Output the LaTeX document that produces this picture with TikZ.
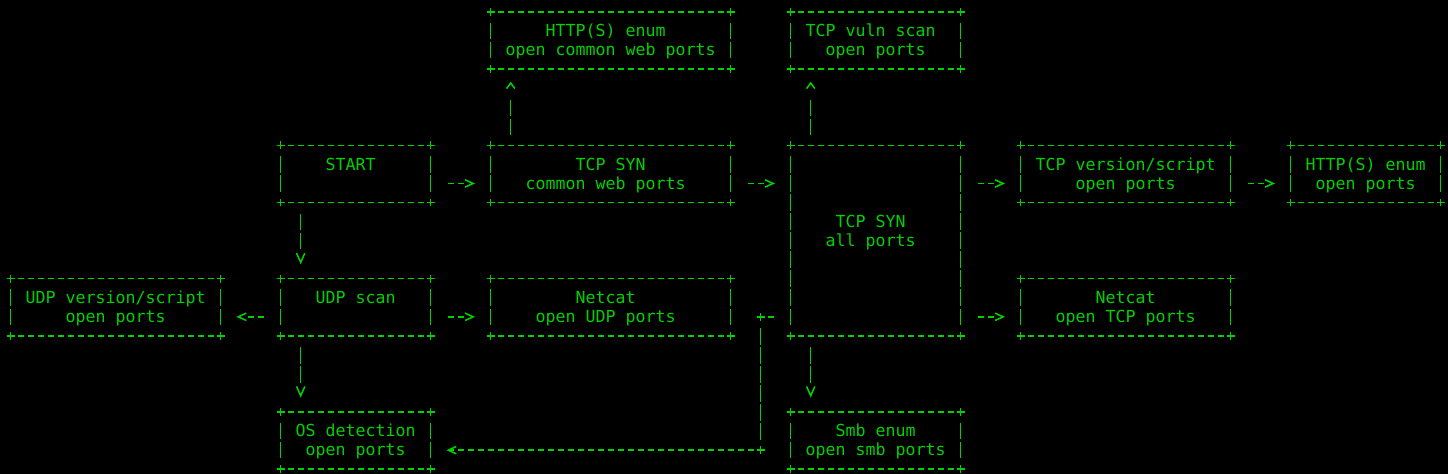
\documentclass[tikz,border=0pt]{standalone}
\usepackage{fontspec}
\usepackage{tikz}
\usetikzlibrary{arrows.meta,calc}
\newfontfamily\termfont{DejaVu Sans Mono}
\definecolor{termgreen}{RGB}{0,210,0}

\begin{document}
\begin{tikzpicture}[x=7.5pt,y=-14.2875pt,color=termgreen,line width=1.15pt,
		box/.style={inner sep=0pt,outer sep=0pt,draw=none},
		lbl/.style={font=\termfont\fontsize{12.46pt}{14.2875pt}\selectfont,inner sep=0pt,text height=10.7pt,text depth=2.3pt},
		hdash/.style={dash pattern=on 4.5pt off 3pt},
		vdash/.style={dash pattern=on 12.45pt off 1.8375pt},
		harrow/.style={dash pattern=on 4.5pt off 3pt on 4.5pt off 50pt,shorten <=12.75pt,shorten >=11.8pt,-{Straight Barb[length=6pt,width=5.5pt]}},
		darrow/.style={dash pattern=on 12.45pt off 1.8375pt on 12.45pt off 50pt,shorten <=8.5pt,shorten >=10.8pt,-{Straight Barb[length=7pt,width=6.2pt]}},
		uarrow/.style={dash pattern=on 12.45pt off 1.8375pt on 12.45pt off 50pt,shorten <=7.6pt,shorten >=9.4pt,-{Straight Barb[length=4.2pt,width=6.2pt]}}]
		\path[use as bounding box,fill=black] (-1.07,-0.63) rectangle (143.73,24.25);
		\foreach \nm/\a/\b/\p/\q in {httpweb/48/72/0/3,vulnscan/78/95/0/3,start/27/42/7/10,synweb/48/72/7/10,synall/78/95/7/17,tcpver/101/122/7/10,httpenum/128/143/7/10,udpver/0/21/14/17,udpscan/27/42/14/17,ncudp/48/72/14/17,nctcp/101/122/14/17,osdet/27/42/21/24,smbenum/78/95/21/24}{
			\node[box,minimum width={(\b-\a)*7.5pt},minimum height={(\q-\p)*14.2875pt}] (\nm) at ({(\a+\b)/2},{(\p+\q)/2}) {};
			\draw[hdash] (\a+.7,\p) -- (\b-.7,\p);
			\draw[hdash] (\a+.7,\q) -- (\b-.7,\q);
			\draw[vdash] (\a,\p+.5643) -- (\a,\q-.5643);
			\draw[vdash] (\b,\p+.5643) -- (\b,\q-.5643);
			\foreach \x in {\a,\b} \foreach \y in {\p,\q}
				\draw (\x,\y) +(-2.9pt,0) -- +(2.9pt,0) +(0,-2.9pt) -- +(0,2.9pt);
		}
		\node[lbl] (httpweb1) at (59.5,1) {HTTP(S) enum};
		\node[lbl] (httpweb2) at (60,2) {open common web ports};
		\node[lbl] (vulnscan1) at (86,1) {TCP vuln scan};
		\node[lbl] (vulnscan2) at (86.5,2) {open ports};
		\node[lbl] (start1) at (34,8) {START};
		\node[lbl] (synweb1) at (60,8) {TCP SYN};
		\node[lbl] (synweb2) at (59.5,9) {common web ports};
		\node[lbl] (synall1) at (86,11) {TCP SYN};
		\node[lbl] (synall2) at (86,12) {all ports};
		\node[lbl] (tcpver1) at (111.5,8) {TCP version/script};
		\node[lbl] (tcpver2) at (111.5,9) {open ports};
		\node[lbl] (httpenum1) at (135.5,8) {HTTP(S) enum};
		\node[lbl] (httpenum2) at (135.5,9) {open ports};
		\node[lbl] (udpver1) at (10.5,15) {UDP version/script};
		\node[lbl] (udpver2) at (10.5,16) {open ports};
		\node[lbl] (udpscan1) at (34.5,15) {UDP scan};
		\node[lbl] (ncudp1) at (59.5,15) {Netcat};
		\node[lbl] (ncudp2) at (59.5,16) {open UDP ports};
		\node[lbl] (nctcp1) at (111.5,15) {Netcat};
		\node[lbl] (nctcp2) at (111.5,16) {open TCP ports};
		\node[lbl] (osdet1) at (34.5,22) {OS detection};
		\node[lbl] (osdet2) at (34.5,23) {open ports};
		\node[lbl] (smbenum1) at (86.5,22) {Smb enum};
		\node[lbl] (smbenum2) at (86.5,23) {open smb ports};
		\draw[harrow] ($(start.east)+(0,.5)$) -- ($(synweb.west)+(0,.5)$);
		\draw[harrow] ($(synweb.east)+(0,.5)$) -- ($(synall.west)+(0,-3)$);
		\draw[harrow] ($(synall.east)+(0,-3)$) -- ($(tcpver.west)+(0,.5)$);
		\draw[harrow] ($(tcpver.east)+(0,.5)$) -- ($(httpenum.west)+(0,.5)$);
		\draw[harrow] ($(synall.east)+(0,4)$) -- ($(nctcp.west)+(0,.5)$);
		\draw[harrow] ($(udpscan.east)+(0,.5)$) -- ($(ncudp.west)+(0,.5)$);
		\draw[harrow] ($(udpscan.west)+(0,.5)$) -- ($(udpver.east)+(0,.5)$);
		\draw[darrow] ($(start.south)+(-5.5,0)$) -- ($(udpscan.north)+(-5.5,0)$);
		\draw[darrow] ($(udpscan.south)+(-5.5,0)$) -- ($(osdet.north)+(-5.5,0)$);
		\draw[darrow] ($(synall.south)+(-6.5,0)$) -- ($(smbenum.north)+(-6.5,0)$);
		\draw[uarrow] ($(synweb.north)+(-10,0)$) -- ($(httpweb.south)+(-10,0)$);
		\draw[uarrow] ($(synall.north)+(-6.5,0)$) -- ($(vulnscan.south)+(-6.5,0)$);
		\coordinate (bendA) at ($(synall.west)+(-3,4)$);
		\coordinate (bendB) at ($(osdet.east)+(33,.5)$);
		\draw[hdash,shorten <=12.75pt] ($(synall.west)+(0,4)$) -- (bendA);
		\draw[vdash,shorten <=8.5pt,shorten >=7.6pt] (bendA) -- (bendB);
		\draw[hdash,shorten <=5.25pt,shorten >=11.8pt,-{Straight Barb[length=6pt,width=5.5pt]}] (bendB) -- ($(osdet.east)+(0,.5)$);
		\foreach \c in {bendA,bendB}
			\draw (\c) +(-2.9pt,0) -- +(2.9pt,0) +(0,-2.9pt) -- +(0,2.9pt);
\end{tikzpicture}
\end{document}
